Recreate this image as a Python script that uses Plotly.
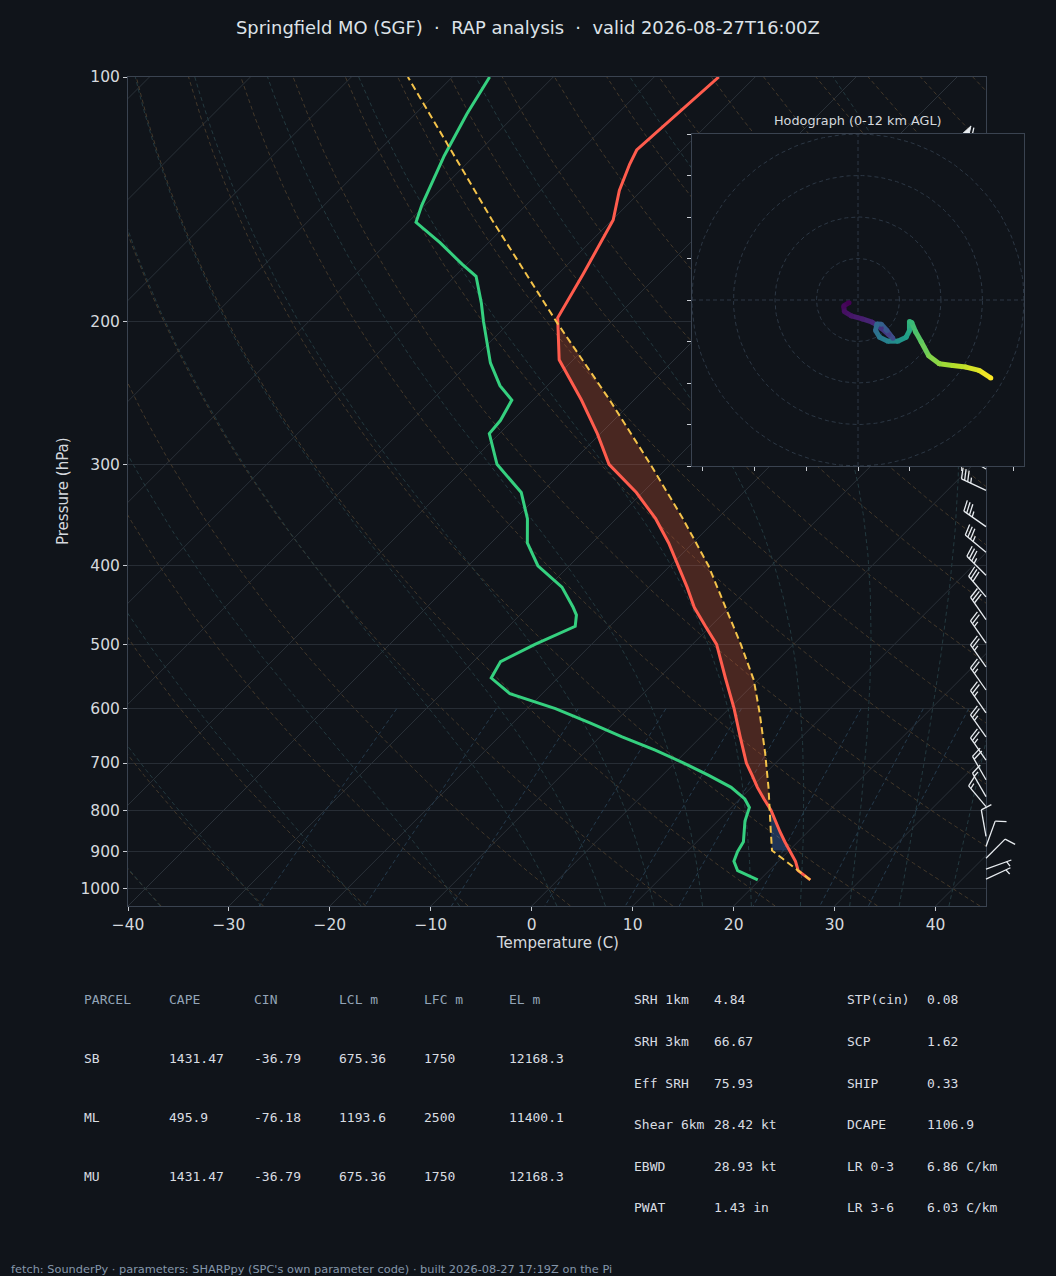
import numpy as np
import plotly.graph_objects as go
from plotly.colors import sample_colorscale

# ---------------- sounding data ----------------
P_T = [975, 950, 925, 900, 875, 850, 825, 800, 775, 750, 725, 700, 650, 600, 550, 500,
       475, 450, 425, 400, 375, 350, 325, 300, 275, 250, 223, 198, 175, 150, 138, 128, 123, 100]
TEMP_C = [25.0, 22.9, 21.7, 20.2, 18.7, 17.2, 15.7, 14.2, 12.4, 10.6, 8.9, 7.1, 3.9, 0.5, -3.4, -7.6,
          -10.5, -13.5, -16.2, -19.2, -22.4, -26.1, -30.6, -36.1, -40.3, -45.2, -51.4, -55.7,
          -57.5, -59.9, -62.2, -63.8, -64.5, -63.6]

P_TD = [975, 950, 925, 900, 875, 850, 825, 794, 775, 750, 725, 700, 675, 650, 625, 600, 575, 550,
        525, 500, 475, 460, 450, 425, 400, 375, 350, 325, 300, 275, 265, 250, 240, 225, 200, 190,
        176, 170, 160, 151, 144, 125, 111, 100]
DEWP_C = [19.8, 16.9, 15.6, 15.0, 14.6, 13.7, 12.7, 11.8, 10.5, 8.0, 4.6, 0.9, -3.2, -7.8, -12.3,
          -17.2, -23.2, -26.6, -27.3, -25.6, -23.4, -24.4, -25.5, -28.6, -33.1, -36.4, -38.8, -42.0,
          -47.2, -51.0, -51.2, -52.1, -54.7, -57.9, -62.7, -64.7, -67.9, -70.5, -74.8, -79.2, -80.3,
          -83.0, -84.9, -86.3]

P_PARCEL = [975, 950, 925, 897, 850, 796, 750, 681, 608, 553, 500, 450, 400, 350, 300, 250, 200, 150, 100]
PARCEL_C = [25.0, 22.9, 20.8, 18.3, 16.3, 13.9, 11.7, 8.0, 3.5, -0.4, -5.2, -10.4, -16.2, -23.4,
            -32.0, -42.4, -55.5, -71.9, -94.4]
LCL_HPA = 897
LFC_HPA = 796
EL_HPA = 205

BARB_P = [122, 131, 139, 149, 159, 169, 181, 193, 206, 220, 234, 250, 267, 285, 304, 323, 358, 385,
          411, 437, 466, 498, 533, 569, 607, 650, 694, 734, 770, 792, 862, 887, 917, 946, 973]
BARB_DIR = [300, 300, 300, 300, 300, 300, 300, 300, 300, 300, 305, 305, 305, 305, 300, 295, 305, 310,
            315, 320, 325, 325, 325, 325, 325, 325, 325, 330, 330, 320, 350, 20, 45, 70, 65]
BARB_KT = [60, 65, 65, 70, 70, 70, 70, 70, 70, 65, 60, 55, 50, 45, 40, 35, 35, 35,
           35, 30, 30, 25, 25, 25, 25, 25, 25, 20, 15, 15, 10, 10, 10, 5, 5]

HODO_U = [-2.16, -3.44, -3.28, -1.6, 1.04, 3.44, 5.6, 7.44, 8.4, 6.96, 5.6, 4.56, 4.24, 5.2, 7.2,
          9.6, 11.6, 12.4, 12.4, 12.96, 13.84, 15.2, 17.04, 19.6, 22.8, 26.0, 29.2, 32.0]
HODO_V = [-0.64, -1.44, -2.8, -3.84, -4.56, -5.36, -6.8, -8.4, -9.2, -7.36, -5.84, -5.76, -7.36,
          -8.96, -9.92, -9.92, -8.96, -7.36, -5.2, -5.44, -7.6, -10.0, -13.44, -15.36, -15.76,
          -16.16, -16.96, -18.8]
HODO_Z_KM = [0, 0.25, 0.5, 0.75, 1.0, 1.3, 1.7, 2.2, 2.7, 3.2, 3.7, 4.0, 4.3, 4.8, 5.4, 6.0, 6.6,
             7.2, 7.8, 8.1, 8.5, 9.0, 9.6, 10.0, 10.6, 11.0, 11.5, 12.0]

X_TICKS = [-40, -30, -20, -10, 0, 10, 20, 30, 40]
X_TICKTEXT = ["\u221240", "\u221230", "\u221220", "\u221210", "0", "10", "20", "30", "40"]
Y_TICKS = [100, 200, 300, 400, 500, 600, 700, 800, 900, 1000]
Y_TICKTEXT = ["100", "200", "300", "400", "500", "600", "700", "800", "900", "1000"]

DRY_THETA_C = list(range(-40, 201, 10))
MOIST_T0_C = [-40, -30, -20, -10, 0, 5, 10, 15, 20, 25, 30, 35, 40, 45]
MIXING_RATIOS = [0.0004, 0.001, 0.002, 0.004, 0.007, 0.01, 0.016, 0.024, 0.032]

HODO_RINGS = [10, 20, 30, 40]
HODO_XTICKS = [-37.5, -25, -12.5, 0, 12.5, 25, 37.5]
HODO_YTICKS = [-40, -30, -20, -10, 0, 10, 20, 30, 40]

TITLE = "Springfield MO (SGF)\u00a0\u00a0\u00b7\u00a0\u00a0RAP analysis\u00a0\u00a0\u00b7\u00a0\u00a0valid 2026-08-27T16:00Z"
TABLE_HEAD = ["PARCEL", "CAPE", "CIN", "LCL m", "LFC m", "EL m"]
PARCEL_NAMES = ["SB", "ML", "MU"]
PARCEL_CAPE = ["1431.47", "495.9", "1431.47"]
PARCEL_CIN = ["-36.79", "-76.18", "-36.79"]
PARCEL_LCL = ["675.36", "1193.6", "675.36"]
PARCEL_LFC = ["1750", "2500", "1750"]
PARCEL_EL = ["12168.3", "11400.1", "12168.3"]
PARAM_LABELS_1 = ["SRH 1km", "SRH 3km", "Eff SRH", "Shear 6km", "EBWD", "PWAT"]
PARAM_VALUES_1 = ["4.84", "66.67", "75.93", "28.42 kt", "28.93 kt", "1.43 in"]
PARAM_LABELS_2 = ["STP(cin)", "SCP", "SHIP", "DCAPE", "LR 0-3", "LR 3-6"]
PARAM_VALUES_2 = ["0.08", "1.62", "0.33", "1106.9", "6.86 C/km", "6.03 C/km"]
FOOTER = "fetch: SounderPy \u00b7 parameters: SHARPpy (SPC's own parameter code) \u00b7 built 2026-08-27 17:19Z on the Pi"

# ---------------- layout geometry / styling ----------------
W_FIG, H_FIG = 1056, 1276
BG = "#10141a"
FRAME = "#3a4350"
GRID = "#272d35"
TXT = "#d5d9de"
TICKC = "#c8ccd2"
PX_L, PX_R, PX_T, PX_B = 128, 986, 77, 906
T_MIN, T_MAX = -40, 45
P_BOT, P_TOP = 1050, 100
HODO_BOX = (692, 1024, 134, 466)
HODO_LIM = 40
BARB_BOX = (940, 1040)
BARB_LEN = 27


def fx(px):
    return px / W_FIG


def fy(py):
    return 1 - py / H_FIG


PLOT_W = PX_R - PX_L
PLOT_H = PX_B - PX_T
SKEW = np.tan(np.radians(45)) * (T_MAX - T_MIN) * PLOT_H / PLOT_W
LOGSPAN = np.log10(P_BOT) - np.log10(P_TOP)


def frac(p):
    return (np.log10(P_BOT) - np.log10(np.asarray(p, float))) / LOGSPAN


def skew_x(t, p):
    return np.asarray(t, float) + SKEW * frac(p)


def joined(lines_x, lines_y):
    xs, ys = [], []
    for a, b in zip(lines_x, lines_y):
        xs += list(a) + [None]
        ys += list(b) + [None]
    return xs, ys


fig = go.Figure()

# ---- isotherms ----
iso_x, iso_y = [], []
for t in range(-120, 50, 10):
    iso_x.append(skew_x([t, t], [P_BOT, P_TOP]))
    iso_y.append([P_BOT, P_TOP])
xs, ys = joined(iso_x, iso_y)
fig.add_trace(go.Scatter(x=xs, y=ys, mode="lines", line=dict(color="#2a3139", width=1), hoverinfo="skip"))

# ---- dry adiabats ----
p_line = np.linspace(P_BOT, P_TOP, 80)
dx, dy = [], []
for th in DRY_THETA_C:
    t = (th + 273.15) * (p_line / 1000.0) ** 0.2857 - 273.15
    dx.append(skew_x(t, p_line))
    dy.append(p_line)
xs, ys = joined(dx, dy)
fig.add_trace(go.Scatter(x=xs, y=ys, mode="lines",
                         line=dict(color="#43382a", width=1, dash="4px,3px"), hoverinfo="skip"))

# ---- moist adiabats (pseudo-adiabatic integration from 1000 hPa) ----
Rd, Cp, Lv, EPS = 287.04, 1005.7, 2.501e6, 0.622


def dtdp(p, T):
    tc = T - 273.15
    es = 6.112 * np.exp(17.67 * tc / (tc + 243.5))
    rs = EPS * es / (p - es)
    return (Rd * T + Lv * rs) / (Cp + Lv * Lv * rs * EPS / (Rd * T * T)) / p


def integrate(t0, p_path):
    T = np.asarray(t0, float) + 273.15
    out = [T.copy()]
    for i in range(len(p_path) - 1):
        p0, h = p_path[i], p_path[i + 1] - p_path[i]
        k1 = dtdp(p0, T)
        k2 = dtdp(p0 + h / 2, T + h * k1 / 2)
        k3 = dtdp(p0 + h / 2, T + h * k2 / 2)
        k4 = dtdp(p0 + h, T + h * k3)
        T = T + h * (k1 + 2 * k2 + 2 * k3 + k4) / 6
        out.append(T.copy())
    return np.array(out) - 273.15


p_up = np.linspace(1000, P_TOP, 181)
p_dn = np.linspace(1000, P_BOT, 11)
t_up = integrate(MOIST_T0_C, p_up)
t_dn = integrate(MOIST_T0_C, p_dn)
p_all = np.concatenate([p_dn[::-1], p_up[1:]])
mx, my = [], []
for j in range(len(MOIST_T0_C)):
    tt = np.concatenate([t_dn[::-1, j], t_up[1:, j]])
    mx.append(skew_x(tt, p_all))
    my.append(p_all)
xs, ys = joined(mx, my)
fig.add_trace(go.Scatter(x=xs, y=ys, mode="lines",
                         line=dict(color="#23393f", width=1, dash="4px,3px"), hoverinfo="skip"))

# ---- mixing ratio lines ----
p_mix = np.linspace(600, P_BOT, 30)
wx, wy = [], []
for w in MIXING_RATIOS:
    e = p_mix * w / (EPS + w)
    lnr = np.log(e / 6.112)
    td = 243.5 * lnr / (17.67 - lnr)
    wx.append(skew_x(td, p_mix))
    wy.append(p_mix)
xs, ys = joined(wx, wy)
fig.add_trace(go.Scatter(x=xs, y=ys, mode="lines",
                         line=dict(color="#253b4d", width=1, dash="4px,3px"), hoverinfo="skip"))


# ---- CAPE / CIN shading ----
def on_grid(p_src, v_src, pg):
    return np.interp(-np.log10(pg), -np.log10(np.asarray(p_src, float)), np.asarray(v_src, float))


pg = np.logspace(np.log10(LFC_HPA), np.log10(EL_HPA), 300)
tg = on_grid(P_T, TEMP_C, pg)
pcg = on_grid(P_PARCEL, PARCEL_C, pg)
hi = np.maximum(pcg, tg)
fig.add_trace(go.Scatter(
    x=np.concatenate([skew_x(hi, pg), skew_x(tg, pg)[::-1]]),
    y=np.concatenate([pg, pg[::-1]]),
    mode="lines", fill="toself", fillcolor="rgba(255,100,60,0.24)", line=dict(width=0), hoverinfo="skip"))

pg2 = np.logspace(np.log10(LCL_HPA), np.log10(LFC_HPA), 120)
tg2 = on_grid(P_T, TEMP_C, pg2)
pcg2 = on_grid(P_PARCEL, PARCEL_C, pg2)
lo = np.minimum(pcg2, tg2)
fig.add_trace(go.Scatter(
    x=np.concatenate([skew_x(tg2, pg2), skew_x(lo, pg2)[::-1]]),
    y=np.concatenate([pg2, pg2[::-1]]),
    mode="lines", fill="toself", fillcolor="rgba(70,130,220,0.30)", line=dict(width=0), hoverinfo="skip"))

# ---- profiles ----
fig.add_trace(go.Scatter(x=skew_x(DEWP_C, P_TD), y=P_TD, mode="lines",
                         line=dict(color="#35d07f", width=3), hoverinfo="skip"))
fig.add_trace(go.Scatter(x=skew_x(TEMP_C, P_T), y=P_T, mode="lines",
                         line=dict(color="#ff5c4d", width=3), hoverinfo="skip"))
fig.add_trace(go.Scatter(x=skew_x(PARCEL_C, P_PARCEL), y=P_PARCEL, mode="lines",
                         line=dict(color="#f4c34a", width=2, dash="7px,4px"), hoverinfo="skip"))

# ---- wind barbs (pixel-unit helper axes x2/y2) ----
bl_x, bl_y, fl_x, fl_y = [], [], [], []
for p, d, s in zip(BARB_P, BARB_DIR, BARB_KT):
    L = BARB_LEN
    W, Hh, S = 0.25 * L, 0.4 * L, 0.125 * L
    bx, by = PX_R, PLOT_H * frac(p)
    ux, uy = np.sin(np.radians(d)), np.cos(np.radians(d))
    rx, ry = uy, -ux

    def P(dist, out=0.0):
        return (bx + ux * dist + rx * out, by + uy * dist + ry * out)

    segs = [[P(0), P(L)]]
    spd = int(5 * round(s / 5))
    nflag, nbarb, half = spd // 50, (spd % 50) // 10, (spd % 10) >= 5
    pos = L
    for i in range(nflag):
        if pos != L:
            pos += S / 2
        tri = [P(pos), P(pos - W / 2, Hh), P(pos - W), P(pos)]
        fl_x += [q[0] for q in tri] + [None]
        fl_y += [q[1] for q in tri] + [None]
        pos -= W + S
    for i in range(nbarb):
        segs.append([P(pos), P(pos + W / 2, Hh)])
        pos -= S
    if half:
        if pos == L:
            pos -= 1.5 * S
        segs.append([P(pos), P(pos + W / 4, Hh / 2)])
    for a, b in segs:
        bl_x += [a[0], b[0], None]
        bl_y += [a[1], b[1], None]

fig.add_trace(go.Scatter(x=bl_x, y=bl_y, xaxis="x2", yaxis="y2", mode="lines",
                         line=dict(color="#e8ecf0", width=1.3), hoverinfo="skip"))
fig.add_trace(go.Scatter(x=fl_x, y=fl_y, xaxis="x2", yaxis="y2", mode="lines", fill="toself",
                         fillcolor="#e8ecf0", line=dict(color="#e8ecf0", width=1), hoverinfo="skip"))

# ---- hodograph inset (x3/y3) ----
fig.add_trace(go.Scatter(x=[-HODO_LIM, HODO_LIM, HODO_LIM, -HODO_LIM, -HODO_LIM],
                         y=[-HODO_LIM, -HODO_LIM, HODO_LIM, HODO_LIM, -HODO_LIM],
                         xaxis="x3", yaxis="y3", mode="lines", fill="toself", fillcolor=BG,
                         line=dict(width=0), hoverinfo="skip"))
ang = np.linspace(0, 2 * np.pi, 181)
rx_, ry_ = joined([r * np.cos(ang) for r in HODO_RINGS], [r * np.sin(ang) for r in HODO_RINGS])
fig.add_trace(go.Scatter(x=rx_, y=ry_, xaxis="x3", yaxis="y3", mode="lines",
                         line=dict(color="#2c3744", width=1, dash="4px,3px"), hoverinfo="skip"))
fig.add_trace(go.Scatter(x=[-HODO_LIM, HODO_LIM, None, 0, 0], y=[0, 0, None, -HODO_LIM, HODO_LIM],
                         xaxis="x3", yaxis="y3", mode="lines",
                         line=dict(color="#2c3744", width=1, dash="4px,3px"), hoverinfo="skip"))
zmax = max(HODO_Z_KM)
pt_cols = sample_colorscale("Viridis", [z / zmax for z in HODO_Z_KM])
for i in range(len(HODO_U) - 1):
    c = sample_colorscale("Viridis", [(HODO_Z_KM[i] + HODO_Z_KM[i + 1]) / 2 / zmax])[0]
    fig.add_trace(go.Scatter(x=HODO_U[i:i + 2], y=HODO_V[i:i + 2], xaxis="x3", yaxis="y3",
                             mode="lines", line=dict(color=c, width=5), hoverinfo="skip"))
fig.add_trace(go.Scatter(x=HODO_U, y=HODO_V, xaxis="x3", yaxis="y3", mode="markers",
                         marker=dict(color=pt_cols, size=5, line=dict(width=0)), hoverinfo="skip"))

# ---- annotations (text) ----
ann = []


def text(x, y, s, size, color=TXT, family="DejaVu Sans", xanchor="left", angle=0):
    ann.append(dict(x=fx(x), y=fy(y), xref="paper", yref="paper", text=s, showarrow=False,
                    xanchor=xanchor, yanchor="middle", textangle=angle,
                    font=dict(size=size, color=color, family=family)))


text(528, 27, TITLE, 17.9, color="#dde2e8", xanchor="center")
text(557, 943, "Temperature (C)", 15, xanchor="center")
text(63, 491, "Pressure (hPa)", 15, xanchor="center", angle=-90)
text(858, 120, "Hodograph (0-12 km AGL)", 12.8, xanchor="center")

MONO = "DejaVu Sans Mono"
col_x = [84, 169, 254, 339, 424, 509]
for cx, h in zip(col_x, TABLE_HEAD):
    text(cx - 2, 999, h, 13, color="#93a4b7", family=MONO)
row_y = [1058, 1117, 1176]
for i, ry in enumerate(row_y):
    vals = [PARCEL_NAMES[i], PARCEL_CAPE[i], PARCEL_CIN[i], PARCEL_LCL[i], PARCEL_LFC[i], PARCEL_EL[i]]
    for cx, v in zip(col_x, vals):
        text(cx - 2, ry, v, 13, color="#d9dde2", family=MONO)
prow_y = [999, 1041, 1083, 1124, 1166, 1207]
for i, ry in enumerate(prow_y):
    text(632, ry, PARAM_LABELS_1[i], 13, color="#d9dde2", family=MONO)
    text(712, ry, PARAM_VALUES_1[i], 13, color="#d9dde2", family=MONO)
    text(845, ry, PARAM_LABELS_2[i], 13, color="#d9dde2", family=MONO)
    text(925, ry, PARAM_VALUES_2[i], 13, color="#d9dde2", family=MONO)
text(9, 1269, FOOTER, 11.35, color="#8597ab")

# ---- layout ----
hx0, hx1, hy0, hy1 = HODO_BOX
fig.update_layout(
    width=W_FIG, height=H_FIG, autosize=False,
    margin=dict(l=0, r=0, t=0, b=0, pad=0),
    paper_bgcolor=BG, plot_bgcolor="rgba(0,0,0,0)",
    showlegend=False, hovermode=False,
    font=dict(family="DejaVu Sans", color=TXT),
    xaxis=dict(domain=[fx(PX_L), fx(PX_R)], range=[T_MIN, T_MAX], anchor="y", automargin=False,
               tickvals=X_TICKS, ticktext=X_TICKTEXT, showgrid=False, zeroline=False,
               showline=True, mirror=True, linecolor=FRAME, linewidth=1,
               ticks="outside", ticklen=4, tickcolor=TICKC, tickfont=dict(size=15.5, color=TXT)),
    yaxis=dict(domain=[fy(PX_B), fy(PX_T)], type="log", range=[np.log10(P_BOT), np.log10(P_TOP)],
               anchor="x", automargin=False, tickvals=Y_TICKS, ticktext=Y_TICKTEXT, showgrid=True,
               gridcolor=GRID, gridwidth=1, zeroline=False, showline=True, mirror=True,
               linecolor=FRAME, linewidth=1,
               ticks="outside", ticklen=4, tickcolor=TICKC, tickfont=dict(size=15.5, color=TXT)),
    xaxis2=dict(domain=[fx(BARB_BOX[0]), fx(BARB_BOX[1])], range=list(BARB_BOX), anchor="y2",
                visible=False, fixedrange=True, automargin=False),
    yaxis2=dict(domain=[fy(PX_B), fy(PX_T)], range=[0, PLOT_H], anchor="x2", visible=False,
                fixedrange=True, automargin=False),
    xaxis3=dict(domain=[fx(hx0), fx(hx1)], range=[-HODO_LIM, HODO_LIM], anchor="y3", automargin=False,
                tickvals=HODO_XTICKS, showticklabels=False, ticks="outside", ticklen=4,
                tickcolor=TICKC, showgrid=False, zeroline=False, showline=True, mirror=True,
                linecolor=FRAME, linewidth=1),
    yaxis3=dict(domain=[fy(hy1), fy(hy0)], range=[-HODO_LIM, HODO_LIM], anchor="x3", automargin=False,
                tickvals=HODO_YTICKS, showticklabels=False, ticks="outside", ticklen=4,
                tickcolor=TICKC, showgrid=False, zeroline=False, showline=True, mirror=True,
                linecolor=FRAME, linewidth=1),
    annotations=ann,
)

POST = ("var gd=document.getElementById('{plot_id}');"
        "document.documentElement.style.margin='0';document.body.style.margin='0';"
        "document.body.style.padding='0';document.body.style.background='" + BG + "';"
        "document.documentElement.style.overflow='hidden';document.body.style.overflow='hidden';"
        "gd.style.position='absolute';gd.style.left='0px';gd.style.top='0px';")
fig.write_html("out.html", include_plotlyjs=True, full_html=True,
               config={"displayModeBar": False}, post_script=POST)
